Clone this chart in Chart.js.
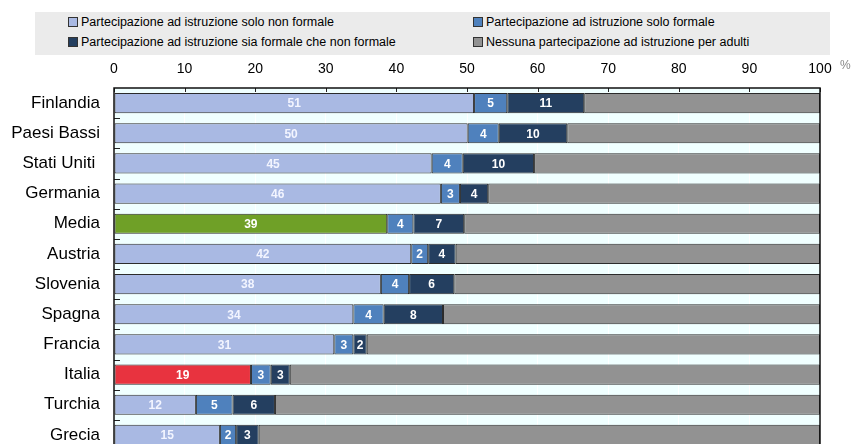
<!DOCTYPE html>
<html><head><meta charset="utf-8">
<script src="https://cdn.jsdelivr.net/npm/chart.js@4"></script>
<style>
html,body{margin:0;padding:0;overflow:hidden;background:#fff;width:854px;height:444px}
#wrap{position:relative;width:854px;height:444px;overflow:hidden}
#legend{position:absolute;left:35px;top:12px;width:795px;height:43px;background:#ebebeb;font-family:"Liberation Sans",Arial,sans-serif;font-size:12.5px;color:#000}
.sw{position:absolute;width:8px;height:8px;border:1px solid #333}
.tx{position:absolute;white-space:nowrap;line-height:14px}
#pct{position:absolute;left:840px;top:58px;font-family:"Liberation Sans",Arial,sans-serif;font-size:12px;color:#888}
canvas{position:absolute;left:0;top:0}
</style></head>
<body>
<div id="wrap">
<canvas id="c" width="854" height="480"></canvas>
<div id="legend"></div>
<div id="pct">%</div>
</div>
<script>
const categories = ["Finlandia","Paesi Bassi","Stati Uniti ","Germania","Media","Austria","Slovenia","Spagna","Francia","Italia","Turchia","Grecia"];
const nonFormalOnly = [51.0,50.1,45.0,46.3,38.7,42.1,37.8,33.9,31.2,19.4,11.6,15.0];
const formalOnly    = [4.7,4.4,4.4,2.7,3.7,2.4,4.0,4.3,2.7,2.8,5.2,2.3];
const bothTypes     = [10.9,9.7,10.1,4.0,7.2,3.9,6.4,8.4,1.9,2.7,6.0,3.2];
const noParticipation = categories.map((c,i)=>+(100-nonFormalOnly[i]-formalOnly[i]-bothTypes[i]).toFixed(1));
const seriesNames = ["Partecipazione ad istruzione solo non formale","Partecipazione ad istruzione solo formale","Partecipazione ad istruzione sia formale che non formale","Nessuna partecipazione ad istruzione per adulti"];
const xTicks = [0,10,20,30,40,50,60,70,80,90,100];

const colLight = '#a9b9e3', colFormal = '#4f81bd', colBoth = '#243f60', colNone = '#929292';
const colMedia = '#6fa027', colItalia = '#e8333f';
const lightColors = categories.map(c => c==='Media' ? colMedia : (c==='Italia' ? colItalia : colLight));

// legend
const legend = document.getElementById('legend');
const legendCols = [colLight, colFormal, colBoth, colNone];
const legPos = [[33,5],[438,5],[33,25],[438,25]];
seriesNames.forEach((n,i)=>{
  const sw=document.createElement('div'); sw.className='sw';
  sw.style.left=legPos[i][0]+'px'; sw.style.top=legPos[i][1]+'px'; sw.style.background=legendCols[i];
  legend.appendChild(sw);
  const t=document.createElement('div'); t.className='tx'; t.textContent=n;
  t.style.left=(legPos[i][0]+13)+'px'; t.style.top=(legPos[i][1]-2)+'px';
  legend.appendChild(t);
});

const FONT = '"Liberation Sans", Arial, sans-serif';

const deco = {
  id:'deco',
  beforeDraw(chart){
    const {ctx, chartArea:a} = chart;
    ctx.save(); ctx.fillStyle='#f0ffff';
    ctx.fillRect(a.left,a.top,a.right-a.left,a.bottom-a.top); ctx.restore();
  },
  afterDatasetsDraw(chart){
    const {ctx, chartArea:a, scales} = chart;
    ctx.save();
    ctx.font='bold 12px "Liberation Sans", Arial, sans-serif';
    ctx.textAlign='center'; ctx.textBaseline='middle';
    for(let d=0; d<3; d++){
      const meta=chart.getDatasetMeta(d);
      meta.data.forEach((el,i)=>{
        const v=chart.data.datasets[d].data[i];
        ctx.fillStyle = (d===0 && lightColors[i]===colLight) ? '#f3f5ff' : '#ffffff';
        ctx.fillText(Math.round(v), (el.x+el.base)/2, el.y+1);
      });
    }
    ctx.strokeStyle='#222'; ctx.lineWidth=1;
    xTicks.forEach(t=>{
      const x=Math.round(scales.x.getPixelForValue(t))+0.5;
      ctx.beginPath(); ctx.moveTo(x,a.top); ctx.lineTo(x,a.top+4); ctx.stroke();
    });
    for(let i=0;i<categories.length-1;i++){
      const y=Math.round((scales.y.getPixelForValue(i)+scales.y.getPixelForValue(i+1))/2)+0.5;
      ctx.beginPath(); ctx.moveTo(a.left,y); ctx.lineTo(a.left+6,y); ctx.stroke();
    }
    ctx.lineWidth=1.5; ctx.strokeStyle='#111';
    ctx.strokeRect(a.left,a.top,a.right-a.left,a.bottom-a.top);
    ctx.restore();
  }
};

new Chart(document.getElementById('c'), {
  type:'bar',
  data:{
    labels: categories,
    datasets:[
      {label:seriesNames[0], data:nonFormalOnly, backgroundColor:lightColors},
      {label:seriesNames[1], data:formalOnly, backgroundColor:colFormal},
      {label:seriesNames[2], data:bothTypes, backgroundColor:colBoth},
      {label:seriesNames[3], data:noParticipation, backgroundColor:colNone}
    ].map(d=>Object.assign(d,{borderColor:'#2b2b2b',borderWidth:1,borderSkipped:false,barPercentage:0.667,categoryPercentage:1}))
  },
  options:{
    indexAxis:'y', responsive:false, animation:false,
    layout:{padding:{left:0,right:34,top:0,bottom:30}},
    plugins:{legend:{display:false},tooltip:{enabled:false}},
    scales:{
      x:{position:'top', stacked:true, min:0, max:100,
         afterBuildTicks(s){ s.ticks = xTicks.map(v=>({value:v})); },
         afterFit(s){ s.height=88; },
         ticks:{color:'#000', font:{family:FONT,size:14}, padding:10, maxRotation:0},
         grid:{color:'rgba(255,255,255,1)', drawTicks:false}, border:{display:false}},
      y:{stacked:true,
         afterFit(s){ s.width=114; },
         ticks:{color:'#000', font:{family:FONT,size:17}, padding:14},
         grid:{display:false, drawTicks:false}, border:{display:false}}
    }
  },
  plugins:[deco]
});
</script>
</body></html>
